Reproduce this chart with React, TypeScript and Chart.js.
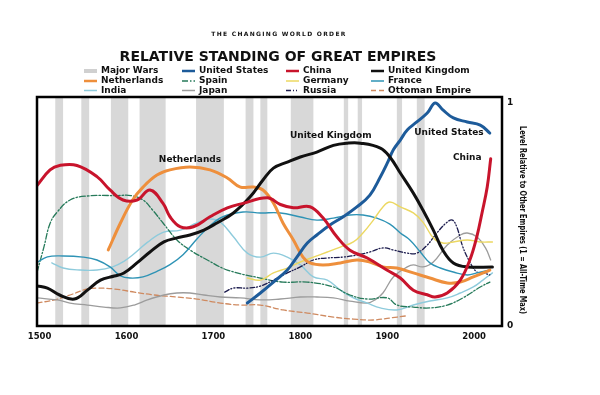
import React, { useEffect, useRef } from "react";
import Chart from "chart.js/auto";

// ---------- DATA ----------
const X_TICKS = [1500, 1600, 1700, 1800, 1900, 2000];
const X_TICK_LABELS = ["1500", "1600", "1700", "1800", "1900", "2000"];
const Y_TICKS = [0, 1];
const Y_TICK_LABELS = ["0", "1"];

const WAR_START = [1518, 1548, 1582, 1615, 1680, 1737, 1754, 1789, 1850, 1866, 1911, 1934];
const WAR_END = [1527, 1557, 1602, 1645, 1712, 1746, 1762, 1815, 1855, 1871, 1917, 1943];

const CHINA_YEARS = [1497, 1512, 1523, 1543, 1566, 1581, 1596, 1612, 1627, 1642, 1650, 1662, 1677, 1696, 1716, 1734, 1762, 1777, 1792, 1811, 1826, 1842, 1857, 1877, 1900, 1915, 1930, 1946, 1955, 1969, 1984, 1995, 2003, 2009, 2015, 2019];
const CHINA_VALUES = [0.63, 0.7, 0.72, 0.72, 0.67, 0.61, 0.565, 0.565, 0.61, 0.55, 0.49, 0.445, 0.445, 0.49, 0.53, 0.55, 0.575, 0.545, 0.53, 0.535, 0.485, 0.4, 0.34, 0.305, 0.25, 0.215, 0.16, 0.14, 0.13, 0.148, 0.206, 0.296, 0.4, 0.507, 0.623, 0.75];

const UK_YEARS = [1497, 1509, 1523, 1540, 1555, 1570, 1586, 1597, 1612, 1627, 1643, 1658, 1673, 1689, 1704, 1723, 1742, 1757, 1769, 1785, 1800, 1819, 1838, 1854, 1869, 1892, 1903, 1915, 1930, 1941, 1953, 1964, 1976, 1992, 2021];
const UK_VALUES = [0.18, 0.17, 0.139, 0.121, 0.161, 0.206, 0.224, 0.238, 0.283, 0.332, 0.377, 0.395, 0.408, 0.43, 0.462, 0.507, 0.578, 0.655, 0.708, 0.735, 0.758, 0.78, 0.81, 0.82, 0.82, 0.798, 0.758, 0.686, 0.596, 0.52, 0.43, 0.34, 0.283, 0.265, 0.265];

const US_YEARS = [1739, 1754, 1769, 1785, 1796, 1808, 1819, 1834, 1849, 1865, 1880, 1892, 1900, 1907, 1915, 1923, 1934, 1946, 1955, 1964, 1976, 1992, 2007, 2018];
const US_VALUES = [0.103, 0.148, 0.197, 0.251, 0.309, 0.372, 0.408, 0.453, 0.489, 0.534, 0.587, 0.668, 0.73, 0.79, 0.834, 0.879, 0.915, 0.955, 1.0, 0.969, 0.933, 0.915, 0.901, 0.865];

const NL_YEARS = [1579, 1593, 1607, 1619, 1635, 1650, 1673, 1696, 1716, 1731, 1746, 1757, 1769, 1780, 1792, 1803, 1811, 1826, 1846, 1865, 1880, 1895, 1911, 1930, 1949, 1969, 1984, 1999, 2018];
const NL_VALUES = [0.341, 0.462, 0.565, 0.623, 0.677, 0.7, 0.713, 0.7, 0.664, 0.623, 0.623, 0.61, 0.552, 0.462, 0.386, 0.309, 0.283, 0.274, 0.283, 0.296, 0.287, 0.265, 0.26, 0.238, 0.215, 0.193, 0.197, 0.22, 0.251];

const SPAIN_YEARS = [1497, 1505, 1512, 1520, 1535, 1555, 1590, 1605, 1619, 1630, 1642, 1658, 1673, 1693, 1716, 1754, 1780, 1808, 1838, 1857, 1877, 1900, 1911, 1930, 1949, 1969, 1987, 2007, 2018];
const SPAIN_VALUES = [0.24, 0.355, 0.46, 0.51, 0.565, 0.583, 0.585, 0.585, 0.565, 0.52, 0.462, 0.386, 0.341, 0.296, 0.251, 0.215, 0.197, 0.197, 0.175, 0.139, 0.121, 0.126, 0.094, 0.085, 0.081, 0.094, 0.126, 0.175, 0.197];

const GERMANY_YEARS = [1739, 1754, 1769, 1785, 1800, 1815, 1831, 1846, 1861, 1872, 1884, 1895, 1903, 1915, 1930, 1941, 1953, 1964, 1976, 1992, 2007, 2021];
const GERMANY_VALUES = [0.215, 0.206, 0.238, 0.26, 0.287, 0.309, 0.332, 0.354, 0.377, 0.417, 0.475, 0.534, 0.556, 0.534, 0.507, 0.466, 0.395, 0.372, 0.377, 0.386, 0.377, 0.377];

const FRANCE_YEARS = [1497, 1509, 1527, 1550, 1566, 1581, 1593, 1604, 1619, 1635, 1650, 1665, 1681, 1696, 1711, 1734, 1754, 1777, 1800, 1819, 1838, 1857, 1872, 1888, 1903, 1915, 1926, 1938, 1949, 1961, 1976, 1992, 2003, 2018];
const FRANCE_VALUES = [0.285, 0.31, 0.314, 0.309, 0.296, 0.265, 0.225, 0.215, 0.22, 0.245, 0.275, 0.32, 0.39, 0.45, 0.49, 0.511, 0.507, 0.507, 0.489, 0.475, 0.484, 0.498, 0.498, 0.484, 0.457, 0.417, 0.386, 0.332, 0.283, 0.26, 0.242, 0.229, 0.238, 0.251];

const INDIA_YEARS = [1514, 1527, 1546, 1566, 1584, 1597, 1609, 1624, 1642, 1662, 1681, 1696, 1708, 1723, 1739, 1754, 1769, 1785, 1800, 1815, 1831, 1846, 1861, 1877, 1892, 1911, 1930, 1949, 1969, 1984, 1999, 2010, 2021];
const INDIA_VALUES = [0.283, 0.26, 0.251, 0.251, 0.265, 0.29, 0.325, 0.375, 0.42, 0.43, 0.462, 0.48, 0.466, 0.4, 0.327, 0.309, 0.327, 0.309, 0.274, 0.22, 0.206, 0.161, 0.126, 0.103, 0.081, 0.072, 0.094, 0.112, 0.126, 0.148, 0.175, 0.206, 0.238];

const JAPAN_YEARS = [1497, 1520, 1535, 1555, 1574, 1593, 1609, 1624, 1643, 1658, 1673, 1689, 1708, 1731, 1754, 1777, 1800, 1819, 1838, 1857, 1877, 1886, 1895, 1907, 1923, 1930, 1941, 1953, 1969, 1984, 1992, 2003, 2013, 2019];
const JAPAN_VALUES = [0.126, 0.117, 0.103, 0.094, 0.085, 0.081, 0.094, 0.117, 0.139, 0.148, 0.148, 0.139, 0.13, 0.126, 0.117, 0.121, 0.13, 0.13, 0.126, 0.112, 0.103, 0.117, 0.148, 0.22, 0.265, 0.274, 0.265, 0.287, 0.363, 0.408, 0.417, 0.4, 0.35, 0.296];

const RUSSIA_YEARS = [1713, 1723, 1739, 1754, 1769, 1785, 1800, 1815, 1831, 1849, 1865, 1880, 1895, 1907, 1923, 1934, 1946, 1957, 1969, 1975, 1980, 1987, 1995, 2003, 2010, 2018];
const RUSSIA_VALUES = [0.152, 0.17, 0.17, 0.179, 0.206, 0.238, 0.265, 0.296, 0.305, 0.309, 0.318, 0.332, 0.35, 0.341, 0.327, 0.327, 0.363, 0.417, 0.466, 0.475, 0.444, 0.354, 0.287, 0.242, 0.238, 0.229];

const OTTOMAN_YEARS = [1497, 1517, 1535, 1555, 1566, 1586, 1609, 1632, 1658, 1681, 1708, 1731, 1754, 1780, 1808, 1838, 1861, 1884, 1903, 1921];
const OTTOMAN_VALUES = [0.103, 0.117, 0.139, 0.166, 0.17, 0.166, 0.152, 0.139, 0.13, 0.121, 0.103, 0.094, 0.094, 0.072, 0.058, 0.04, 0.031, 0.027, 0.036, 0.045];

const ANNOT_TEXT = ["Netherlands", "United Kingdom", "United States", "China"];
const ANNOT_YEAR = [1673, 1835, 1971, 1992];
const ANNOT_VALUE = [0.744, 0.852, 0.865, 0.753];

const TITLE = "RELATIVE STANDING OF GREAT EMPIRES";
const SUPERTITLE = "THE CHANGING WORLD ORDER";
const AXIS_TITLE = "Level Relative to Other Empires (1 = All-Time Max)";

// ---------- STYLE ----------
const FONT = '"DejaVu Sans", sans-serif';
const WAR_COLOR = "#d8d8d8";

type S = { name: string; xs: number[]; ys: number[]; color: string; width: number; dash: number[] };
const SERIES: S[] = [
  { name: "China", xs: CHINA_YEARS, ys: CHINA_VALUES, color: "#c8142c", width: 3, dash: [] },
  { name: "United Kingdom", xs: UK_YEARS, ys: UK_VALUES, color: "#111111", width: 3, dash: [] },
  { name: "United States", xs: US_YEARS, ys: US_VALUES, color: "#1d5b9a", width: 3, dash: [] },
  { name: "Netherlands", xs: NL_YEARS, ys: NL_VALUES, color: "#ee8f3c", width: 3, dash: [] },
  { name: "Germany", xs: GERMANY_YEARS, ys: GERMANY_VALUES, color: "#ecd862", width: 1.4, dash: [] },
  { name: "France", xs: FRANCE_YEARS, ys: FRANCE_VALUES, color: "#2e93b5", width: 1.4, dash: [] },
  { name: "Russia", xs: RUSSIA_YEARS, ys: RUSSIA_VALUES, color: "#1b1b4d", width: 1.3, dash: [5, 2, 1, 2, 1, 2] },
  { name: "Spain", xs: SPAIN_YEARS, ys: SPAIN_VALUES, color: "#267a5a", width: 1.3, dash: [6, 2, 1.5, 2] },
  { name: "India", xs: INDIA_YEARS, ys: INDIA_VALUES, color: "#8ecbdc", width: 1.4, dash: [] },
  { name: "Japan", xs: JAPAN_YEARS, ys: JAPAN_VALUES, color: "#9c9c9c", width: 1.3, dash: [] },
  { name: "Ottoman Empire", xs: OTTOMAN_YEARS, ys: OTTOMAN_VALUES, color: "#cf8a60", width: 1.3, dash: [5, 3] },
];

const LEGEND_ROWS = [
  ["Major Wars", "United States", "China", "United Kingdom"],
  ["Netherlands", "Spain", "Germany", "France"],
  ["India", "Japan", "Russia", "Ottoman Empire"],
];
const LEGEND_COL_X = [101, 199, 303, 388];
const LEGEND_ROW_Y = [71, 81, 90.5];

const warsPlugin = {
  id: "wars",
  beforeDatasetsDraw(chart: any) {
    const { ctx, chartArea, scales } = chart;
    ctx.save();
    ctx.fillStyle = WAR_COLOR;
    for (let i = 0; i < WAR_START.length; i++) {
      const a = scales.x.getPixelForValue(WAR_START[i]);
      const b = scales.x.getPixelForValue(WAR_END[i]);
      ctx.fillRect(a, chartArea.top, b - a, chartArea.bottom - chartArea.top);
    }
    ctx.restore();
  },
};

const decoPlugin = {
  id: "deco",
  afterDatasetsDraw(chart: any) {
    const { ctx, chartArea, scales } = chart;
    ctx.save();
    ctx.strokeStyle = "#000";
    ctx.lineWidth = 2.5;
    ctx.strokeRect(chartArea.left, chartArea.top, chartArea.right - chartArea.left, chartArea.bottom - chartArea.top);
    ctx.fillStyle = "#111";
    ctx.font = `bold 9px ${FONT}`;
    ctx.textAlign = "center";
    ctx.textBaseline = "middle";
    for (let i = 0; i < ANNOT_TEXT.length; i++) {
      ctx.fillText(ANNOT_TEXT[i], scales.x.getPixelForValue(ANNOT_YEAR[i]), scales.y.getPixelForValue(ANNOT_VALUE[i]));
    }
    ctx.restore();
  },
  afterDraw(chart: any) {
    const { ctx } = chart;
    ctx.save();
    ctx.fillStyle = "#111";
    ctx.textBaseline = "middle";
    ctx.textAlign = "center";
    ctx.font = `bold 6px ${FONT}`;
    (ctx as any).letterSpacing = "1.3px";
    ctx.fillText(SUPERTITLE, 279, 34.5, 136);
    (ctx as any).letterSpacing = "0px";
    ctx.font = `bold 14px ${FONT}`;
    ctx.fillText(TITLE, 278, 57, 320);
    ctx.textAlign = "left";
    ctx.font = `bold 9px ${FONT}`;
    LEGEND_ROWS.forEach((row, r) => {
      row.forEach((name, c) => {
        const tx = LEGEND_COL_X[c];
        const ty = LEGEND_ROW_Y[r];
        const x0 = tx - 17;
        const x1 = tx - 4;
        if (name === "Major Wars") {
          ctx.fillStyle = "#d0d0d0";
          ctx.fillRect(x0, ty - 2, x1 - x0, 4);
        } else {
          const s = SERIES.find((q) => q.name === name)!;
          ctx.strokeStyle = s.color;
          ctx.lineWidth = s.width > 2 ? 2.5 : 1.5;
          ctx.setLineDash(s.dash);
          ctx.beginPath();
          ctx.moveTo(x0, ty);
          ctx.lineTo(x1, ty);
          ctx.stroke();
          ctx.setLineDash([]);
        }
        ctx.fillStyle = "#111";
        ctx.fillText(name, tx, ty);
      });
    });
    ctx.translate(522, 220);
    ctx.rotate(Math.PI / 2);
    ctx.textAlign = "center";
    ctx.font = `bold 9px ${FONT}`;
    ctx.fillText(AXIS_TITLE, 0, 0, 188);
    ctx.restore();
  },
};

export default function App() {
  const ref = useRef<HTMLCanvasElement | null>(null);
  useEffect(() => {
    if (!ref.current) return;
    const chart = new Chart(ref.current, {
      type: "line",
      data: {
        datasets: SERIES.map((s) => ({
          label: s.name,
          data: s.xs.map((x, i) => ({ x, y: s.ys[i] })),
          borderColor: s.color,
          borderWidth: s.width,
          borderDash: s.dash,
          pointRadius: 0,
          fill: false,
          tension: 0.4,
          borderCapStyle: "round" as const,
          borderJoinStyle: "round" as const,
        })),
      },
      options: {
        animation: false,
        responsive: true,
        maintainAspectRatio: false,
        layout: { padding: { top: 97, left: 37, right: 78, bottom: 49 } },
        plugins: { legend: { display: false }, tooltip: { enabled: false }, title: { display: false } },
        scales: {
          x: {
            type: "linear",
            min: 1497,
            max: 2032,
            grid: { display: false, drawTicks: false },
            border: { display: false },
            afterBuildTicks: (s: any) => {
              s.ticks = X_TICKS.map((v) => ({ value: v }));
            },
            afterFit: (s: any) => {
              s.height = 20;
            },
            ticks: {
              padding: 6,
              autoSkip: false,
              maxRotation: 0,
              color: "#111",
              font: { family: FONT, size: 8.5, weight: "bold" },
              callback: (_v: any, i: number) => X_TICK_LABELS[i],
            },
          },
          y: {
            type: "linear",
            position: "right",
            min: 0,
            max: 1.027,
            grid: { display: false, drawTicks: false },
            border: { display: false },
            afterBuildTicks: (s: any) => {
              s.ticks = Y_TICKS.map((v) => ({ value: v }));
            },
            afterFit: (s: any) => {
              s.width = 20;
            },
            ticks: {
              padding: 5,
              color: "#111",
              font: { family: FONT, size: 9, weight: "bold" },
              callback: (_v: any, i: number) => Y_TICK_LABELS[i],
            },
          },
        },
      },
      plugins: [warsPlugin, decoPlugin],
    });
    return () => chart.destroy();
  }, []);
  return (
    <div style={{ position: "absolute", left: 0, top: 0, width: 600, height: 395, background: "#fff" }}>
      <canvas ref={ref} />
    </div>
  );
}
